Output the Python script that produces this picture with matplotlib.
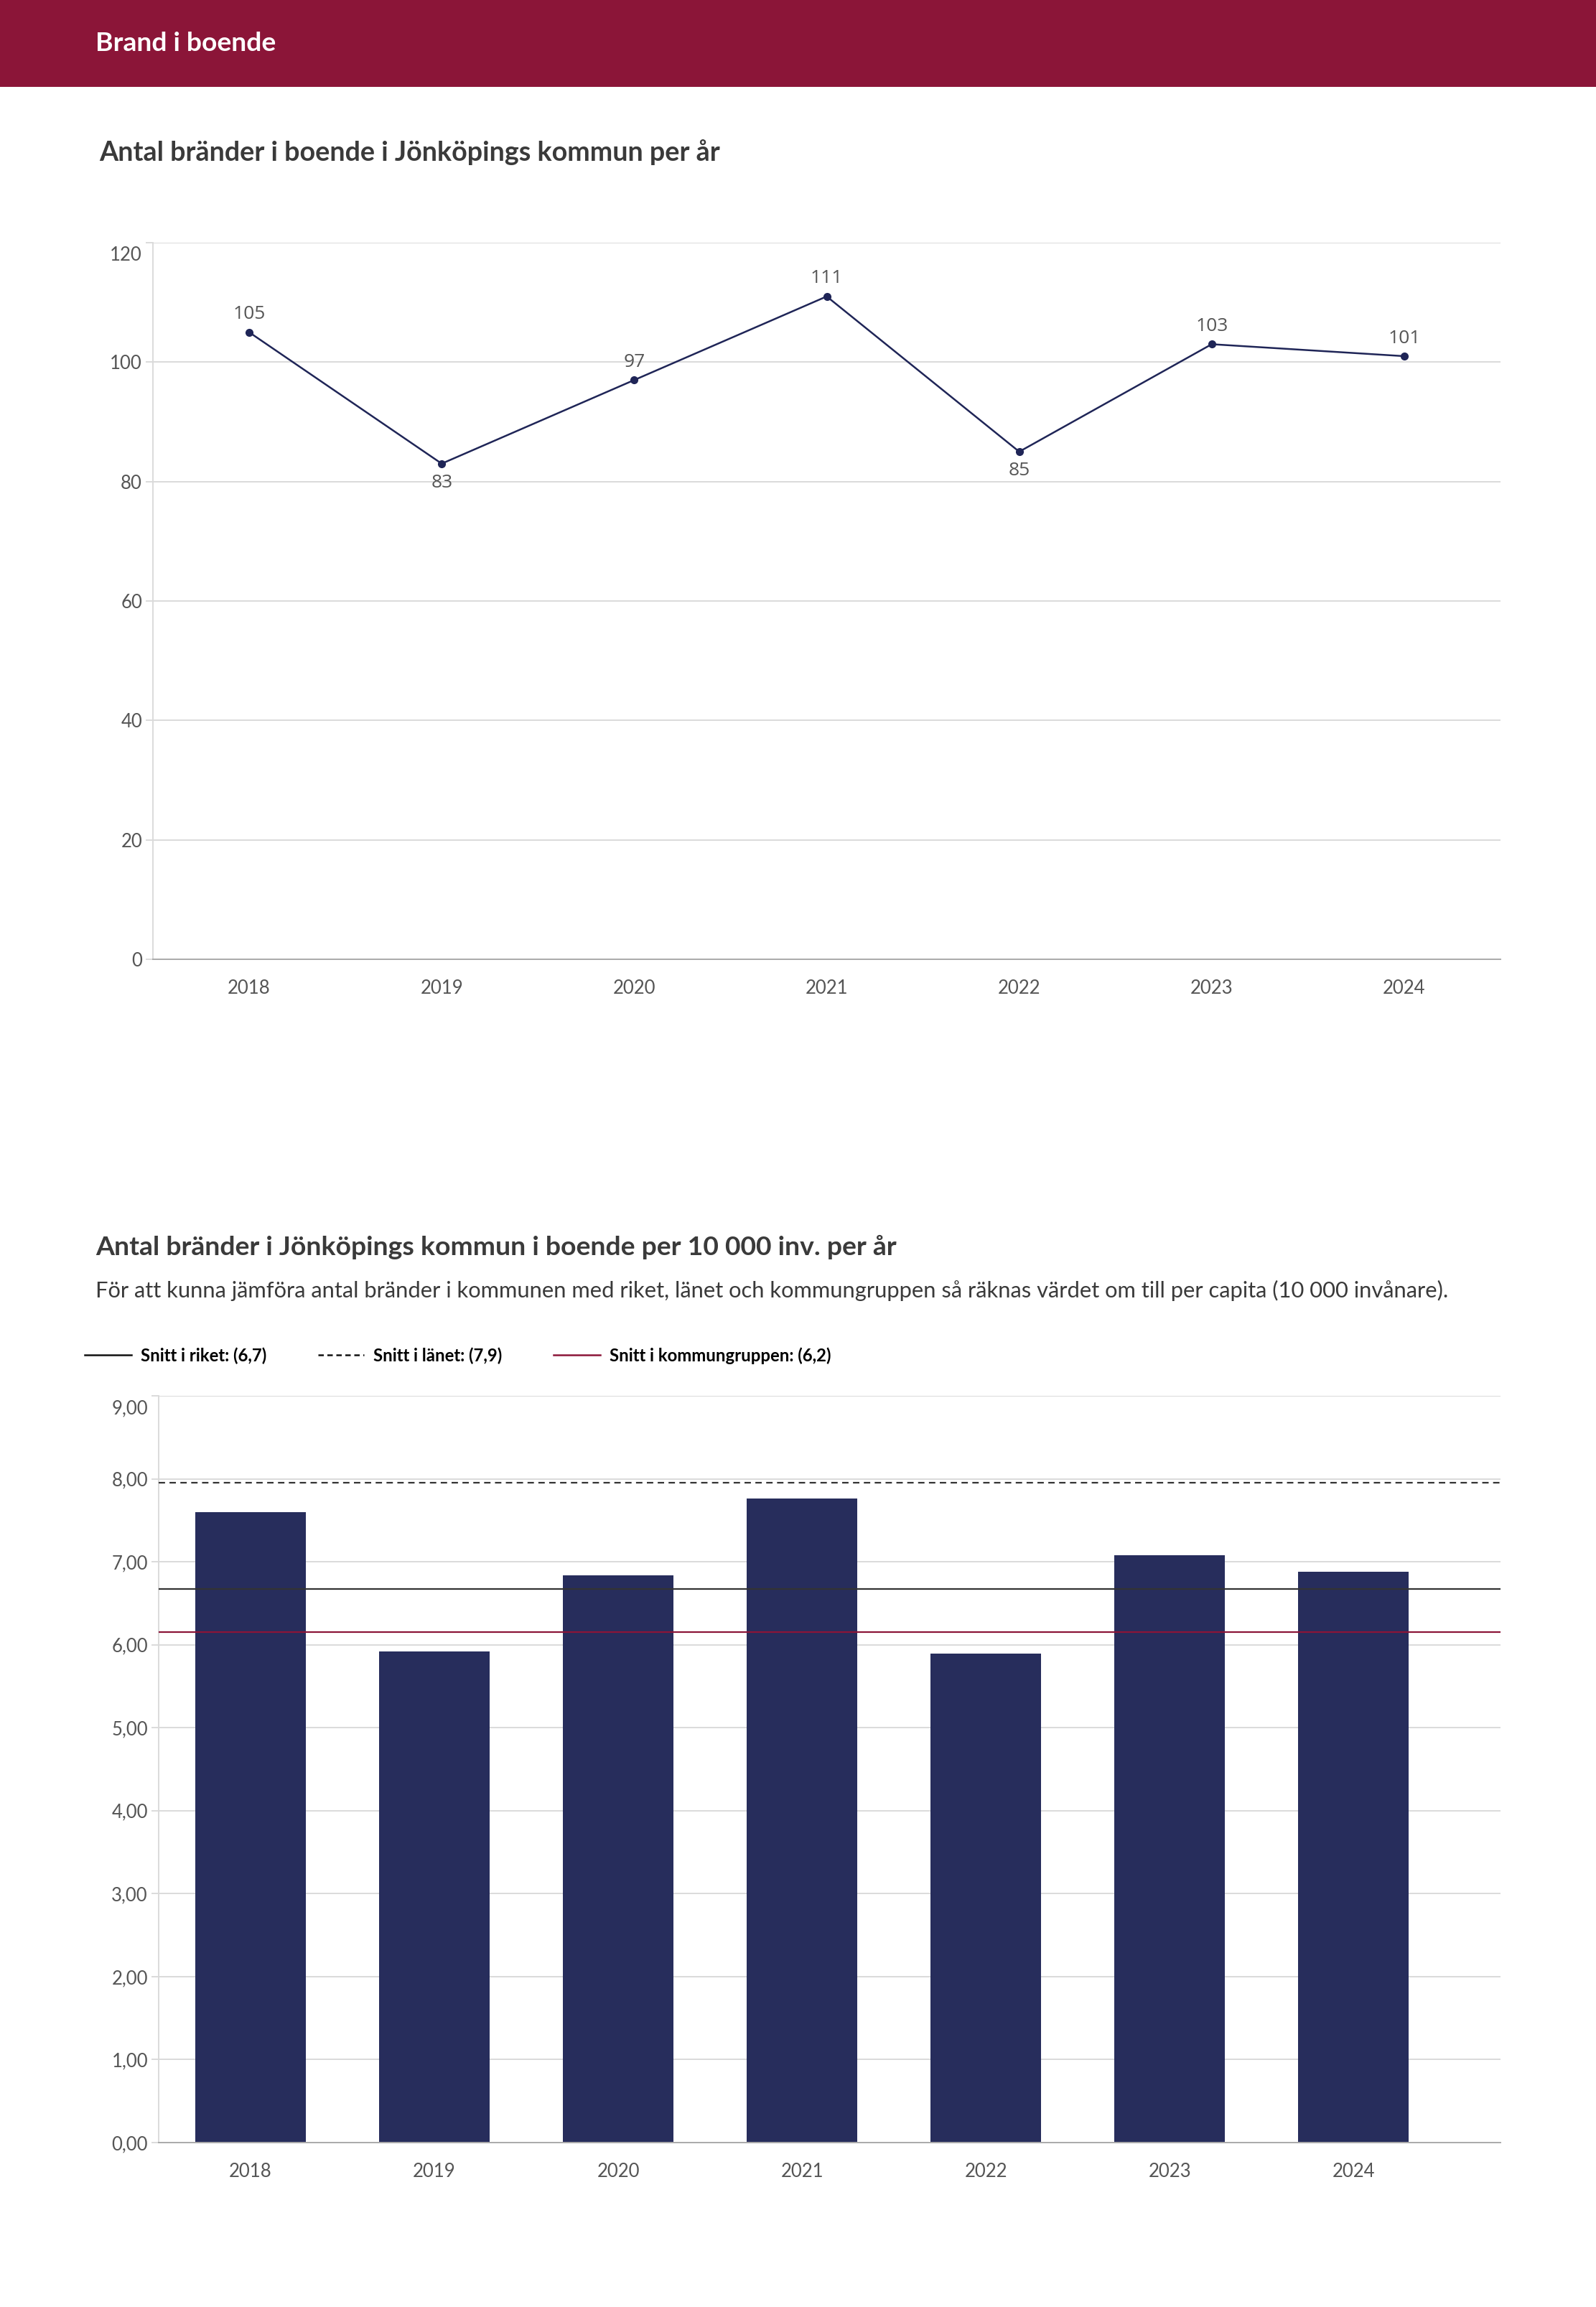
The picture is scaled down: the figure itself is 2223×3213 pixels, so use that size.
import matplotlib.pyplot as plt
from matplotlib.patches import Rectangle
from matplotlib.lines import Line2D
from matplotlib.transforms import ScaledTranslation

plt.rcParams['font.family'] = ['Lato', 'DejaVu Sans']

# === DATA ===
years = ["2018", "2019", "2020", "2021", "2022", "2023", "2024"]
fires = [105, 83, 97, 111, 85, 103, 101]
label_below = [False, True, False, False, True, False, False]
y1_ticks = [0, 20, 40, 60, 80, 100, 120]

fires_per_10k = [7.60, 5.92, 6.84, 7.76, 5.89, 7.08, 6.88]
avg_riket = 6.67
avg_lanet = 7.95
avg_kommungrupp = 6.15
legend_labels = ["Snitt i riket: (6,7)", "Snitt i länet: (7,9)", "Snitt i kommungruppen: (6,2)"]
y2_ticks = [0, 1, 2, 3, 4, 5, 6, 7, 8, 9]

header = "Brand i boende"
title1 = "Antal bränder i boende i Jönköpings kommun per år"
title2 = "Antal bränder i Jönköpings kommun i boende per 10 000 inv. per år"
subtitle = ("För att kunna jämföra antal bränder i kommunen med riket, länet och "
            "kommungruppen så räknas värdet om till per capita (10 000 invånare).")

# === STYLE ===
W, H, DPI = 2223, 3213, 100
wine = "#8B1538"
navy = "#272D5C"
line_navy = "#1F2557"
grid_col = "#DADADA"
tick_col = "#555555"
title_col = "#3A3A3A"

fig = plt.figure(figsize=(W / DPI, H / DPI), dpi=DPI)

# header band
fig.patches.append(Rectangle((0, 1 - 121 / H), 1, 121 / H, transform=fig.transFigure,
                             facecolor=wine, edgecolor="none", zorder=0))
fig.text(133 / W, 1 - 71 / H, header, color="white", fontsize=26.8, fontweight="bold",
         va="baseline", ha="left")

fig.text(138 / W, 1 - 224 / H, title1, color=title_col, fontsize=27.2, fontweight="bold",
         va="baseline", ha="left")
fig.text(133 / W, 1 - 1748 / H, title2, color=title_col, fontsize=26.9, fontweight="bold",
         va="baseline", ha="left")
fig.text(133 / W, 1 - 1807 / H, subtitle, color=title_col, fontsize=22.2,
         va="baseline", ha="left")


def style_axes(ax, ticks, labels):
    for s in ["top", "right"]:
        ax.spines[s].set_visible(False)
    ax.spines["left"].set_color(grid_col)
    ax.spines["left"].set_linewidth(1.4)
    ax.spines["bottom"].set_color("#AAAAAA")
    ax.spines["bottom"].set_linewidth(1.4)
    ax.set_yticks(ticks)
    ax.set_yticklabels(labels)
    ax.grid(axis="y", color=grid_col, linewidth=1.4, zorder=0)
    ax.set_axisbelow(True)
    ax.tick_params(axis="y", length=7.2, width=1.4, color=grid_col, pad=3.6,
                   labelsize=18.5, labelcolor=tick_col)
    ax.tick_params(axis="x", length=0, pad=20, labelsize=18.5, labelcolor=tick_col)
    # top label sits a little lower, like the original
    top = ax.get_yticklabels()[-1]
    top.set_transform(top.get_transform() + ScaledTranslation(0, -15 / DPI, fig.dpi_scale_trans))


# --- chart 1: line ---
ax1 = fig.add_axes([213 / W, 1 - 1336 / H, 1877 / W, 998 / H])
x = range(len(years))
ax1.plot(x, fires, color=line_navy, linewidth=1.8, marker="o", markersize=7, zorder=3)
ax1.set_xlim(-0.5, len(years) - 0.5)
ax1.set_ylim(0, 120)
ax1.set_xticks(list(x))
ax1.set_xticklabels(years)
style_axes(ax1, y1_ticks, [str(t) for t in y1_ticks])
for i, v in enumerate(fires):
    off = -19 if label_below[i] else 18
    ax1.annotate(str(v), (i, v), xytext=(0, off), textcoords="offset points",
                 ha="center", va="center", fontsize=19, color=tick_col,
                 family=["Open Sans", "DejaVu Sans"])

# --- chart 2: bars ---
ax2 = fig.add_axes([221 / W, 1 - 2984 / H, 1869 / W, 1040 / H])
ax2.bar(x, fires_per_10k, width=0.6, color=navy, zorder=2)
ax2.set_xlim(-0.5, 6.8)
ax2.set_ylim(0, 9)
ax2.set_xticks(list(x))
ax2.set_xticklabels(years)
style_axes(ax2, y2_ticks, [f"{t:.2f}".replace(".", ",") for t in y2_ticks])

ax2.axhline(avg_riket, color="#333333", linewidth=1.6, zorder=4)
ax2.axhline(avg_lanet, color="#333333", linewidth=1.6, linestyle=(0, (4, 2.8)), zorder=4)
ax2.axhline(avg_kommungrupp, color=wine, linewidth=1.6, zorder=4)

handles = [Line2D([], [], color="#111111", linewidth=1.8),
           Line2D([], [], color="#111111", linewidth=1.8, linestyle=(0, (3, 2))),
           Line2D([], [], color=wine, linewidth=1.8)]
leg = ax2.legend(handles, legend_labels, loc="center left",
                 bbox_to_anchor=((118 - 221) / 1869, (2984 - 1888) / 1040),
                 ncol=3, frameon=False, handlelength=2.7, handletextpad=0.55,
                 columnspacing=3.0, borderpad=0, borderaxespad=0,
                 prop=dict(weight="bold", size=17.2))

fig.savefig("out.png", dpi=DPI, facecolor="white")
